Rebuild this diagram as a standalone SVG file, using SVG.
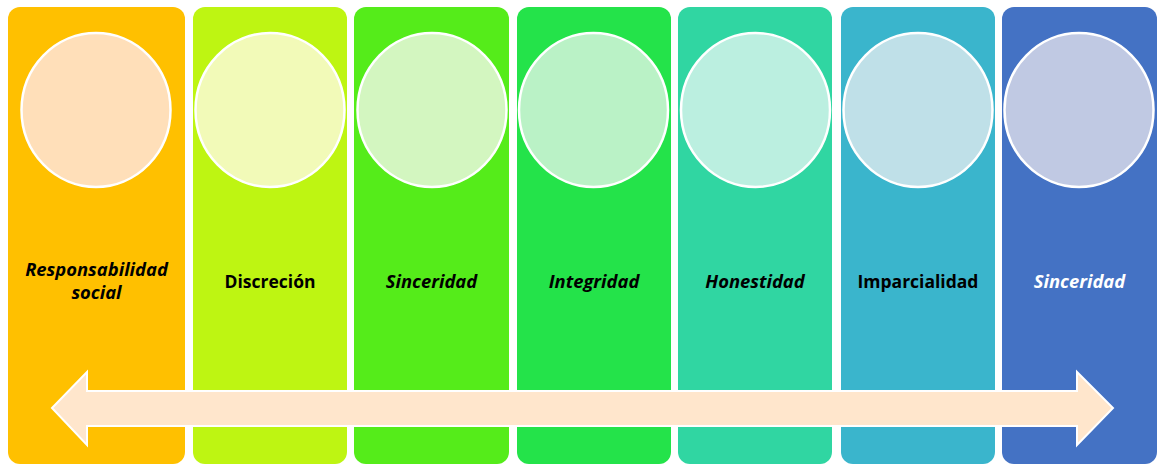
<svg xmlns="http://www.w3.org/2000/svg" width="1160" height="464" viewBox="0 0 1160 464">
<style>
.col{stroke:none}
.circ{stroke:#FFFFFF;stroke-width:2.5}
.lbl{font-family:"Open Sans","Liberation Sans",sans-serif;font-weight:bold;font-size:17.5px;text-anchor:middle}
.it{font-style:italic;font-size:18.4px}
</style>
<rect width="1160" height="464" fill="#FFFFFF"/>
<g id="node1">
<rect class="col" x="8" y="7" width="177" height="457" rx="12" fill="#FFC000"/>
<ellipse class="circ" cx="96" cy="110" rx="74.5" ry="77" fill="#FFDFB9"/>
<text class="lbl it" x="96.5" y="276" fill="#000000">Responsabilidad</text>
<text class="lbl it" x="96.5" y="299" fill="#000000">social</text>
</g>
<g id="node2">
<rect class="col" x="193" y="7" width="154" height="457" rx="12" fill="#BEF512"/>
<ellipse class="circ" cx="270" cy="110" rx="74.5" ry="77" fill="#F2FAB8"/>
<text class="lbl" x="270" y="288" fill="#000000">Discreción</text>
</g>
<g id="node3">
<rect class="col" x="354" y="7" width="155" height="457" rx="12" fill="#55EC1A"/>
<ellipse class="circ" cx="432" cy="110" rx="74.5" ry="77" fill="#D3F6C0"/>
<text class="lbl it" x="431.5" y="288" fill="#000000">Sinceridad</text>
</g>
<g id="node4">
<rect class="col" x="517" y="7" width="154" height="457" rx="12" fill="#24E34A"/>
<ellipse class="circ" cx="593.5" cy="110" rx="74.5" ry="77" fill="#BAF2C6"/>
<text class="lbl it" x="594" y="288" fill="#000000">Integridad</text>
</g>
<g id="node5">
<rect class="col" x="678" y="7" width="154" height="457" rx="12" fill="#30D6A2"/>
<ellipse class="circ" cx="755.5" cy="110" rx="74.5" ry="77" fill="#BBEFE0"/>
<text class="lbl it" x="755" y="288" fill="#000000">Honestidad</text>
</g>
<g id="node6">
<rect class="col" x="841" y="7" width="154" height="457" rx="12" fill="#3AB5CC"/>
<ellipse class="circ" cx="918" cy="110" rx="74.5" ry="77" fill="#BFE0E8"/>
<text class="lbl" x="918" y="288" fill="#000000">Imparcialidad</text>
</g>
<g id="node7">
<rect class="col" x="1002" y="7" width="155" height="457" rx="12" fill="#4472C4"/>
<ellipse class="circ" cx="1079" cy="110" rx="74.5" ry="77" fill="#C0C9E3"/>
<text class="lbl it" x="1079.5" y="288" fill="#FFFFFF">Sinceridad</text>
</g>
<g id="connectors">
<polygon points="52,408 87,372 87,391 1077,391 1077,372 1113,408 1077,445 1077,426 87,426 87,445" fill="#FFE6CC" stroke="#FFFFFF" stroke-width="2"/>
</g>
</svg>
